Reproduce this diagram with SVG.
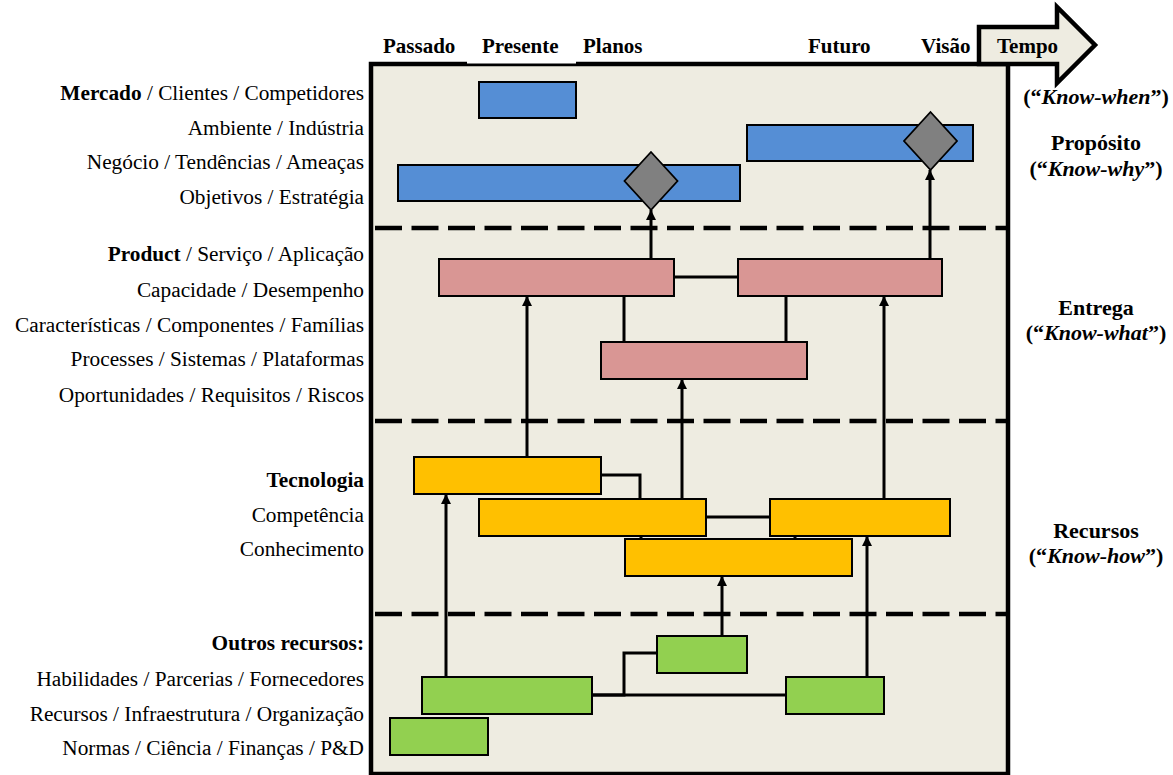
<svg xmlns="http://www.w3.org/2000/svg" width="1173" height="775" viewBox="0 0 1173 775">
  <defs>
    <marker id="arrowhead" markerUnits="userSpaceOnUse" viewBox="0 0 10 10" refX="10" refY="5" markerWidth="10" markerHeight="10" orient="auto">
      <path d="M0,0 L10,5 L0,10 z" fill="#000"/>
    </marker>
    <style>
      .lbl { font-size: 21.3px; fill: #000; }
      .hdr { font-size: 21px; font-weight: bold; fill: #000; }
      .side { font-size: 22px; font-weight: bold; fill: #000; text-anchor: middle; }
      .b { font-weight: bold; }
      .it { font-style: italic; }
      .box { stroke: #000; stroke-width: 2; }
      .blue { fill: #558ED5; }
      .pink { fill: #D99694; }
      .yellow { fill: #FFC000; }
      .green { fill: #92D050; }
      .diamond { fill: #808080; stroke: #000; stroke-width: 1.8; }
      .divider { stroke: #000; stroke-width: 4.5; stroke-dasharray: 27 9.5; fill: none; }
      .link { stroke: #000; stroke-width: 3; fill: none; }
      .flow { stroke: #000; stroke-width: 3; fill: none; marker-end: url(#arrowhead); }
    </style>
  </defs>

  <rect width="1173" height="775" fill="#fff"/>

  <!-- main chart frame -->
  <rect x="371" y="64" width="637" height="710" fill="#EEECE1" stroke="#000" stroke-width="4.5"/>

  <!-- time arrow -->
  <path d="M979,64 V27 H1057 V7 L1095,45 L1057,83 V64 Z" fill="#EEECE1" stroke="#000" stroke-width="4.5" stroke-linejoin="miter"/>

  <g font-family="'Liberation Serif', 'Times New Roman', Times, serif">
    <!-- time axis labels -->
    <g id="time-labels">
      <rect x="467" y="28" width="109" height="35.5" fill="#fff"/>
      <text class="hdr" x="383" y="53">Passado</text>
      <text class="hdr" x="482" y="53">Presente</text>
      <text class="hdr" x="583" y="53">Planos</text>
      <text class="hdr" x="808" y="53">Futuro</text>
      <text class="hdr" x="921" y="53">Visão</text>
      <text class="hdr" x="997" y="53">Tempo</text>
    </g>

    <!-- layer row labels -->
    <g id="row-labels" class="lbl" text-anchor="end">
      <text x="364" y="100"><tspan class="b">Mercado</tspan> / Clientes / Competidores</text>
      <text x="364" y="134.5">Ambiente / Indústria</text>
      <text x="364" y="169">Negócio / Tendências / Ameaças</text>
      <text x="364" y="203.5">Objetivos / Estratégia</text>

      <text x="364" y="261"><tspan class="b">Product</tspan> / Serviço / Aplicação</text>
      <text x="364" y="297">Capacidade / Desempenho</text>
      <text x="364" y="332">Características / Componentes / Famílias</text>
      <text x="364" y="366">Processes / Sistemas / Plataformas</text>
      <text x="364" y="402">Oportunidades / Requisitos / Riscos</text>

      <text x="364" y="487" class="b">Tecnologia</text>
      <text x="364" y="522">Competência</text>
      <text x="364" y="556">Conhecimento</text>

      <text x="364" y="650" class="b">Outros recursos:</text>
      <text x="364" y="686">Habilidades / Parcerias / Fornecedores</text>
      <text x="364" y="721">Recursos / Infraestrutura / Organização</text>
      <text x="364" y="755">Normas / Ciência / Finanças / P&amp;D</text>
    </g>

    <!-- layer names on the right -->
    <g id="layer-names" class="side">
      <text x="1096" y="104">(“<tspan class="it">Know-when</tspan>”)</text>
      <text x="1096" y="150">Propósito</text>
      <text x="1096" y="176">(“<tspan class="it">Know-why</tspan>”)</text>
      <text x="1096" y="315">Entrega</text>
      <text x="1096" y="340">(“<tspan class="it">Know-what</tspan>”)</text>
      <text x="1096" y="538">Recursos</text>
      <text x="1096" y="563">(“<tspan class="it">Know-how</tspan>”)</text>
    </g>
  </g>

  <!-- layer dividers -->
  <g id="dividers">
    <line class="divider" x1="375" y1="228" x2="1006" y2="228"/>
    <line class="divider" x1="375" y1="421" x2="1006" y2="421"/>
    <line class="divider" x1="375" y1="614" x2="1006" y2="614"/>
  </g>

  <!-- connectors -->
  <g id="connectors">
    <!-- purpose links -->
    <line class="flow" x1="651" y1="259" x2="651" y2="210"/>
    <line class="flow" x1="930" y1="259" x2="930" y2="170"/>
    <!-- delivery links -->
    <line class="link" x1="674" y1="277" x2="738" y2="277" stroke-width="2.5"/>
    <line class="link" x1="624" y1="296" x2="624" y2="342"/>
    <line class="link" x1="786" y1="296" x2="786" y2="342"/>
    <!-- resources to delivery -->
    <line class="flow" x1="527" y1="457" x2="527" y2="296"/>
    <line class="flow" x1="682" y1="499" x2="682" y2="379"/>
    <line class="flow" x1="884" y1="499" x2="884" y2="296"/>
    <!-- resource links -->
    <polyline class="link" points="601,475 640,475 640,499" stroke-width="2.5"/>
    <line class="link" x1="706" y1="517" x2="770" y2="517"/>
    <line class="link" x1="641" y1="536" x2="641" y2="539" stroke-width="2.5"/>
    <line class="link" x1="795" y1="536" x2="795" y2="539" stroke-width="2.5"/>
    <!-- other resources to technology -->
    <line class="flow" x1="446" y1="677" x2="446" y2="494"/>
    <line class="flow" x1="722" y1="636" x2="722" y2="576"/>
    <line class="flow" x1="867" y1="677" x2="867" y2="536"/>
    <!-- other resource links -->
    <line class="link" x1="592" y1="695" x2="786" y2="695" stroke-width="2.5"/>
    <polyline class="link" points="592,695 624,695 624,653 657,653" stroke-width="2.5"/>
  </g>

  <!-- purpose layer -->
  <g id="market-now"><rect class="box blue" x="479" y="82" width="97" height="36"/></g>
  <g id="strategy-plan"><rect class="box blue" x="398" y="165" width="342" height="36"/></g>
  <g id="industry-vision"><rect class="box blue" x="747" y="125" width="226" height="36"/></g>
  <g id="milestone-plan"><polygon class="diamond" points="651,152 677.5,181 651,210 624.5,181"/></g>
  <g id="milestone-vision"><polygon class="diamond" points="930.5,112 957,141 930.5,170 904,141"/></g>

  <!-- delivery layer -->
  <g id="product-current"><rect class="box pink" x="439" y="259" width="235" height="37"/></g>
  <g id="product-future"><rect class="box pink" x="738" y="259" width="204" height="37"/></g>
  <g id="platform"><rect class="box pink" x="601" y="342" width="206" height="37"/></g>

  <!-- resources layer -->
  <g id="technology-a"><rect class="box yellow" x="414" y="457" width="187" height="37"/></g>
  <g id="technology-b"><rect class="box yellow" x="479" y="499" width="227" height="37"/></g>
  <g id="technology-c"><rect class="box yellow" x="770" y="499" width="180" height="37"/></g>
  <g id="knowledge"><rect class="box yellow" x="625" y="539" width="227" height="37"/></g>

  <!-- other resources -->
  <g id="partners"><rect class="box green" x="657" y="636" width="90" height="37"/></g>
  <g id="infrastructure"><rect class="box green" x="422" y="677" width="170" height="37"/></g>
  <g id="suppliers"><rect class="box green" x="786" y="677" width="98" height="37"/></g>
  <g id="science"><rect class="box green" x="390" y="718" width="98" height="37"/></g>
</svg>
